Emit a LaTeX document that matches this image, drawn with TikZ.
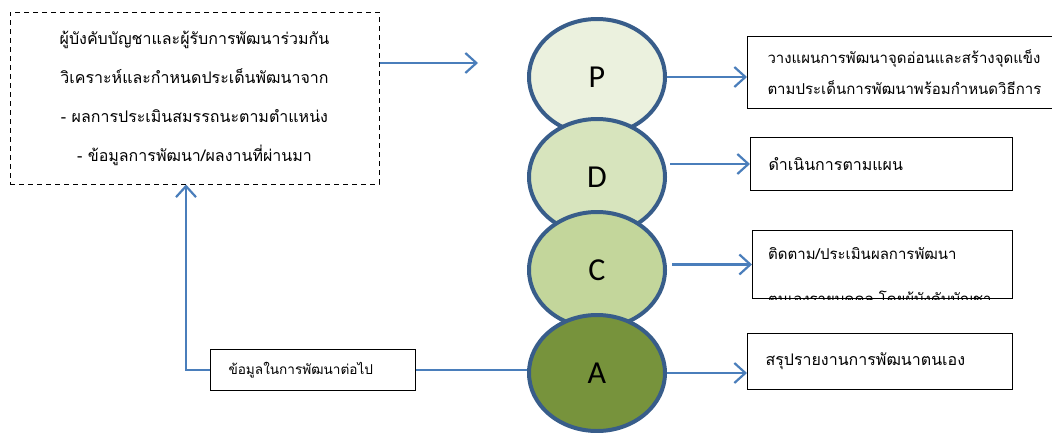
\documentclass[tikz,border=0pt]{standalone}
\usepackage{fontspec}
\newfontfamily\thai[Script=Thai]{Loma}
\newfontfamily\letterfont{Carlito}
\usetikzlibrary{shapes.geometric,arrows.meta}
\definecolor{linkblue}{HTML}{4A7EBB}
\definecolor{rimblue}{HTML}{385D8A}
\definecolor{fillP}{HTML}{EBF1DE}
\definecolor{fillD}{HTML}{D7E4BD}
\definecolor{fillC}{HTML}{C3D69B}
\definecolor{fillA}{HTML}{77933C}
\begin{document}
\begin{tikzpicture}[x=1pt,y=-1pt,
  stage/.style={ellipse, draw=rimblue, line width=4pt, minimum width=136pt, minimum height=116pt, inner sep=0pt, font=\letterfont\fontsize{32}{32}\selectfont},
  link/.style={draw=linkblue, line width=2.2pt},
  linkarrow/.style={link, -{Straight Barb[length=11pt,width=20pt,line width=2.2pt]}},
  textbox/.style={draw=black, line width=1pt, inner ysep=0pt, anchor=north west, align=left},
  dashbox/.style={draw=black, line width=1pt, dash pattern=on 5pt off 4pt, align=center, inner sep=0pt},
  thaibig/.style={font=\thai\fontsize{16}{39}\selectfont},
  thaiplan/.style={font=\thai\fontsize{15}{31}\selectfont},
  thaibox/.style={font=\thai\fontsize{16}{31}\selectfont},
  thaismall/.style={font=\thai\fontsize{13.6}{16}\selectfont}]
\clip (0,0) rectangle (1052,432);
\fill[white] (0,0) rectangle (1052,432);

% source dashed box
\node[dashbox, thaibig, minimum width=369pt, minimum height=172pt] (src) at (194.5,98)
  {ผู้บังคับบัญชาและผู้รับการพัฒนาร่วมกัน\\วิเคราะห์และกำหนดประเด็นพัฒนาจาก\\- ผลการประเมินสมรรถนะตามตำแหน่ง\\- ข้อมูลการพัฒนา/ผลงานที่ผ่านมา};
\coordinate (pin) at (478,63);

% stages
\node[stage, fill=fillP] (P) at (597,77) {P};
\node[stage, fill=fillD] (D) at (597,177) {D};
\node[stage, fill=fillC] (C) at (597,270) {C};
\node[stage, fill=fillA] (A) at (597,373) {A};

% right boxes
\node[textbox, thaiplan, minimum height=72pt, text width=290pt, inner xsep=20pt] (pbox) at (747,36)
  {วางแผนการพัฒนาจุดอ่อนและสร้างจุดแข็ง\\ตามประเด็นการพัฒนาพร้อมกำหนดวิธีการ};
\node[textbox, thaibox, minimum height=53pt, text width=226pt, inner xsep=18pt] (dbox) at (750,137)
  {ดำเนินการตามแผน};
\node[textbox, minimum width=260pt, minimum height=68pt, inner sep=0pt] (cbox) at (752,230) {};
\begin{scope}
  \clip (cbox.north west) rectangle (cbox.south east);
  \node[anchor=north west, align=left, inner sep=0pt, font=\thai\fontsize{15}{45}\selectfont] (ctext) at ([xshift=16pt,yshift=-17pt]cbox.north west)
    {ติดตาม/ประเมินผลการพัฒนา\\ตนเองรายบุคคล โดยผู้บังคับบัญชา};
\end{scope}
\node[textbox, minimum width=260pt, minimum height=68pt, inner sep=0pt] (cboxrim) at (752,230) {};
\node[textbox, thaibox, minimum height=56pt, text width=229pt, inner xsep=18pt] (abox) at (747,333)
  {สรุปรายงานการพัฒนาตนเอง};
\node[textbox, thaismall, minimum height=41pt, text width=169pt, inner xsep=18pt] (nbox) at (210,349)
  {ข้อมูลในการพัฒนาต่อไป};

% connectors
\draw[linkarrow] ([yshift=35pt]src.east) -- (pin);
\draw[linkarrow] (P.east) -- (P.east -| pbox.west);
\draw[linkarrow] ([xshift=3pt]dbox.west -| D.east) -- (dbox.west);
\draw[linkarrow] ([xshift=5pt]cbox.west -| C.east) -- (cbox.west);
\draw[linkarrow] (A.east) -- (A.east -| abox.west);
\draw[link] (nbox.east) -- (nbox.east -| A.west);
\draw[linkarrow] (nbox.west) -| ([xshift=-8.5pt]src.south);
\end{tikzpicture}
\end{document}
